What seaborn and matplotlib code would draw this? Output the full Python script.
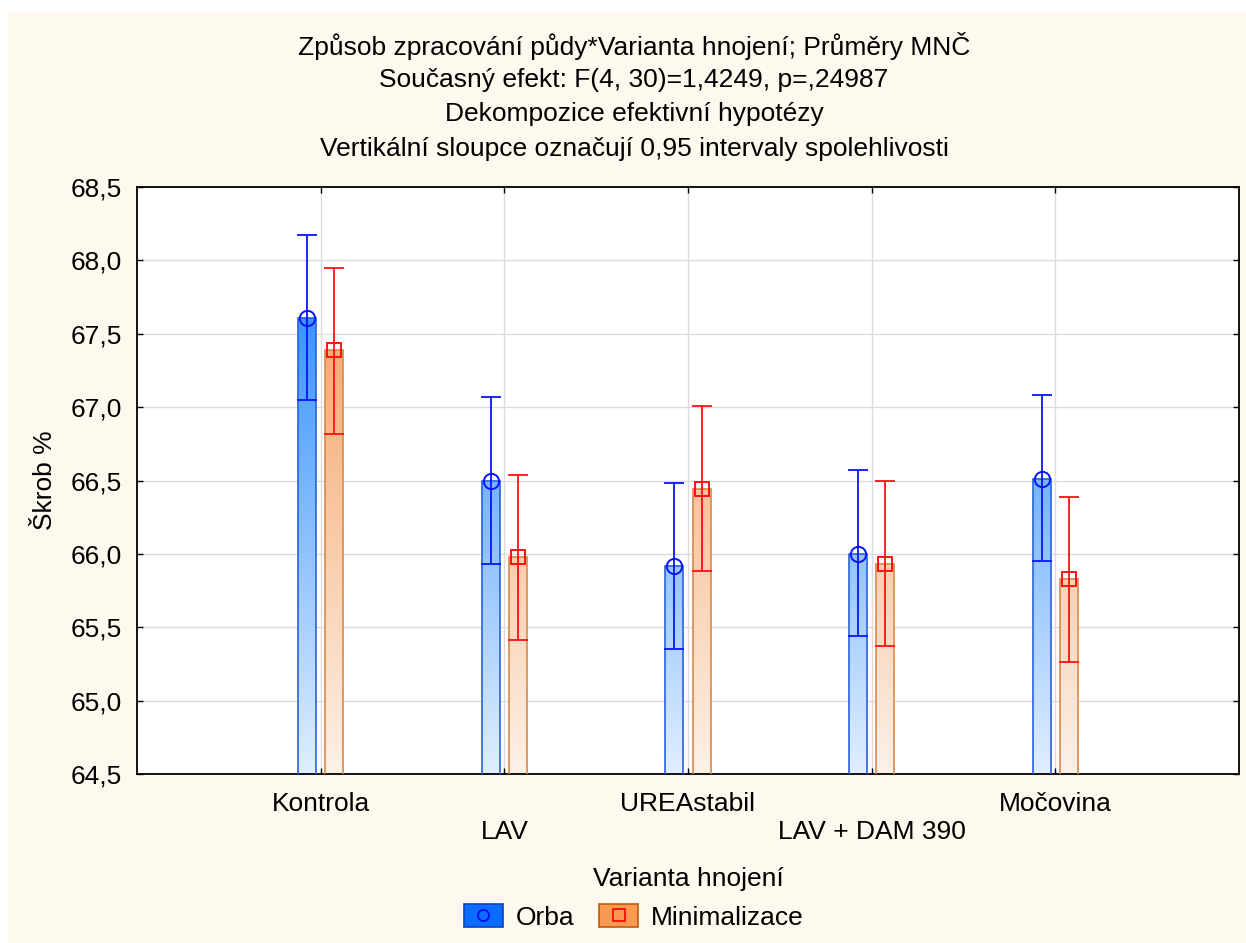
import numpy as np
import pandas as pd
import matplotlib
matplotlib.use("Agg")
import matplotlib.pyplot as plt
from matplotlib.patches import Patch, Rectangle
from matplotlib.lines import Line2D
from matplotlib.colors import to_rgb
import seaborn as sns

# ---------------- data ----------------
categories = ["Kontrola", "LAV", "UREAstabil", "LAV + DAM 390", "Močovina"]
series = ["Orba", "Minimalizace"]
orba_mean = [67.61, 66.50, 65.92, 66.00, 66.51]
orba_lo = [67.05, 65.93, 65.35, 65.44, 65.95]
orba_hi = [68.17, 67.07, 66.48, 66.57, 67.08]
mini_mean = [67.39, 65.98, 66.44, 65.93, 65.83]
mini_lo = [66.82, 65.41, 65.88, 65.37, 65.26]
mini_hi = [67.95, 66.54, 67.01, 66.50, 66.39]
yticks = [64.5, 65.0, 65.5, 66.0, 66.5, 67.0, 67.5, 68.0, 68.5]
ytick_labels = ["64,5", "65,0", "65,5", "66,0", "66,5", "67,0", "67,5", "68,0", "68,5"]
title_lines = [
    "Způsob zpracování půdy*Varianta hnojení; Průměry MNČ",
    "Současný efekt: F(4, 30)=1,4249, p=,24987",
    "Dekompozice efektivní hypotézy",
    "Vertikální sloupce označují 0,95 intervaly spolehlivosti",
]
ylabel = "Škrob %"
xlabel = "Varianta hnojení"

df = pd.DataFrame({
    "Varianta": categories * 2,
    "Zpracovani": [series[0]] * len(categories) + [series[1]] * len(categories),
    "Skrob": orba_mean + mini_mean,
})

# ---------------- style ----------------
sns.set_theme(style="white")
plt.rcParams["font.family"] = ["Liberation Sans", "DejaVu Sans"]
for k in ["text.color", "axes.labelcolor", "xtick.color", "ytick.color"]:
    plt.rcParams[k] = "black"
FS = 19

W, H = 1246, 943
fig = plt.figure(figsize=(W / 100, H / 100), dpi=100, facecolor="white")
# cream panel
fig.patches.append(Rectangle((8 / W, 0), 1 - 8 / W, 1 - 12 / H, transform=fig.transFigure,
                             facecolor="#fdf9ee", edgecolor="none", zorder=-10))

ax = fig.add_axes([137 / W, 1 - 774 / H, (1239 - 137) / W, (774 - 187) / H])
ax.set_facecolor("white")

bar_edges = {"Orba": "#2a62dc", "Minimalizace": "#d58a4c"}
sns.barplot(data=df, x="Varianta", y="Skrob", hue="Zpracovani", order=categories,
            hue_order=series, width=0.3, gap=0.35, errorbar=None,
            palette={"Orba": "#3d98fd", "Minimalizace": "#f5ae78"},
            legend=False, ax=ax, zorder=3)

ymin, ymax = yticks[0], yticks[-1]
ax.set_ylim(ymin, ymax)
ax.set_xlim(-1, len(categories))

grad_cols = {
    "Orba": (to_rgb("#0a7cfc"), to_rgb("#e0eeff")),
    "Minimalizace": (to_rgb("#f2924a"), to_rgb("#fdf1e7")),
}

bars = list(ax.patches)
centers = {}
for i, b in enumerate(bars):
    s = series[i // len(categories)]
    centers.setdefault(s, []).append(b.get_x() + b.get_width() / 2)
    top_c, bot_c = grad_cols[s]
    t = np.linspace(0, 1, 256)[:, None]
    img = (np.array(top_c)[None, :] * (1 - t) + np.array(bot_c)[None, :] * t)[:, None, :]
    im = ax.imshow(img, extent=[b.get_x(), b.get_x() + b.get_width(), ymin, ymax],
                   origin="upper", aspect="auto", interpolation="bilinear", zorder=2)
    im.set_clip_path(b)
    b.set_facecolor("none")
    b.set_edgecolor(bar_edges[s])
    b.set_linewidth(1.2)
    b.set_zorder(3)

ax.set_ylim(ymin, ymax)
ax.set_xlim(-1, len(categories))

# error bars + markers
err_style = {
    "Orba": dict(color="#0a14ff", marker="o", ms=11),
    "Minimalizace": dict(color="#ff1010", marker="s", ms=10),
}
for s, m, lo, hi in [("Orba", orba_mean, orba_lo, orba_hi),
                     ("Minimalizace", mini_mean, mini_lo, mini_hi)]:
    m = np.array(m); lo = np.array(lo); hi = np.array(hi)
    st = err_style[s]
    ax.errorbar(centers[s], m, yerr=[m - lo, hi - m], fmt="none", ecolor=st["color"],
                elinewidth=1.3, capsize=7, capthick=1.3, zorder=5)
    ax.plot(centers[s], m, ls="none", marker=st["marker"], ms=st["ms"], mfc="none",
            mec=st["color"], mew=1.4, zorder=6)

# axes cosmetics
ax.set_yticks(yticks)
ax.set_yticklabels(ytick_labels, fontsize=FS)
ax.set_xticks(range(len(categories)))
ax.set_xticklabels([c if i % 2 == 0 else "\n" + c for i, c in enumerate(categories)], fontsize=FS)
ax.tick_params(axis="both", direction="in", length=4, width=1, color="black",
               top=True, right=True, left=True, bottom=True)
ax.tick_params(axis="x", pad=13)
ax.tick_params(axis="y", pad=11)
ax.grid(True, color="#dcdcdc", lw=1, zorder=0)
ax.set_axisbelow(True)
for sp in ax.spines.values():
    sp.set_visible(True)
    sp.set_color("black")
    sp.set_linewidth(1.3)

ax.set_ylabel(ylabel, fontsize=FS)
ax.yaxis.set_label_coords(-0.073, 0.5)
ax.set_xlabel(xlabel, fontsize=FS)
ax.xaxis.set_label_coords(0.5, -0.159)

# title lines
for yy, line in zip([46, 80, 114, 149], title_lines):
    fig.text(634 / W, 1 - yy / H, line, ha="center", va="center", fontsize=FS)

# legend
handles = [
    (Patch(facecolor="#0a6cff", edgecolor="#1040c0", lw=1.2),
     Line2D([], [], ls="none", marker="o", ms=8, mfc="none", mec="#0000ff", mew=1.2)),
    (Patch(facecolor="#f99a50", edgecolor="#c05a10", lw=1.2),
     Line2D([], [], ls="none", marker="s", ms=8, mfc="none", mec="#ff0000", mew=1.2)),
]
fig.legend(handles, series, loc="center", bbox_to_anchor=(634 / W, 1 - 917 / H), ncol=2,
           frameon=False, fontsize=FS, handlelength=1.45, handleheight=0.95,
           columnspacing=0.95, handletextpad=0.5)

fig.savefig("out.png", dpi=100, facecolor="white")
